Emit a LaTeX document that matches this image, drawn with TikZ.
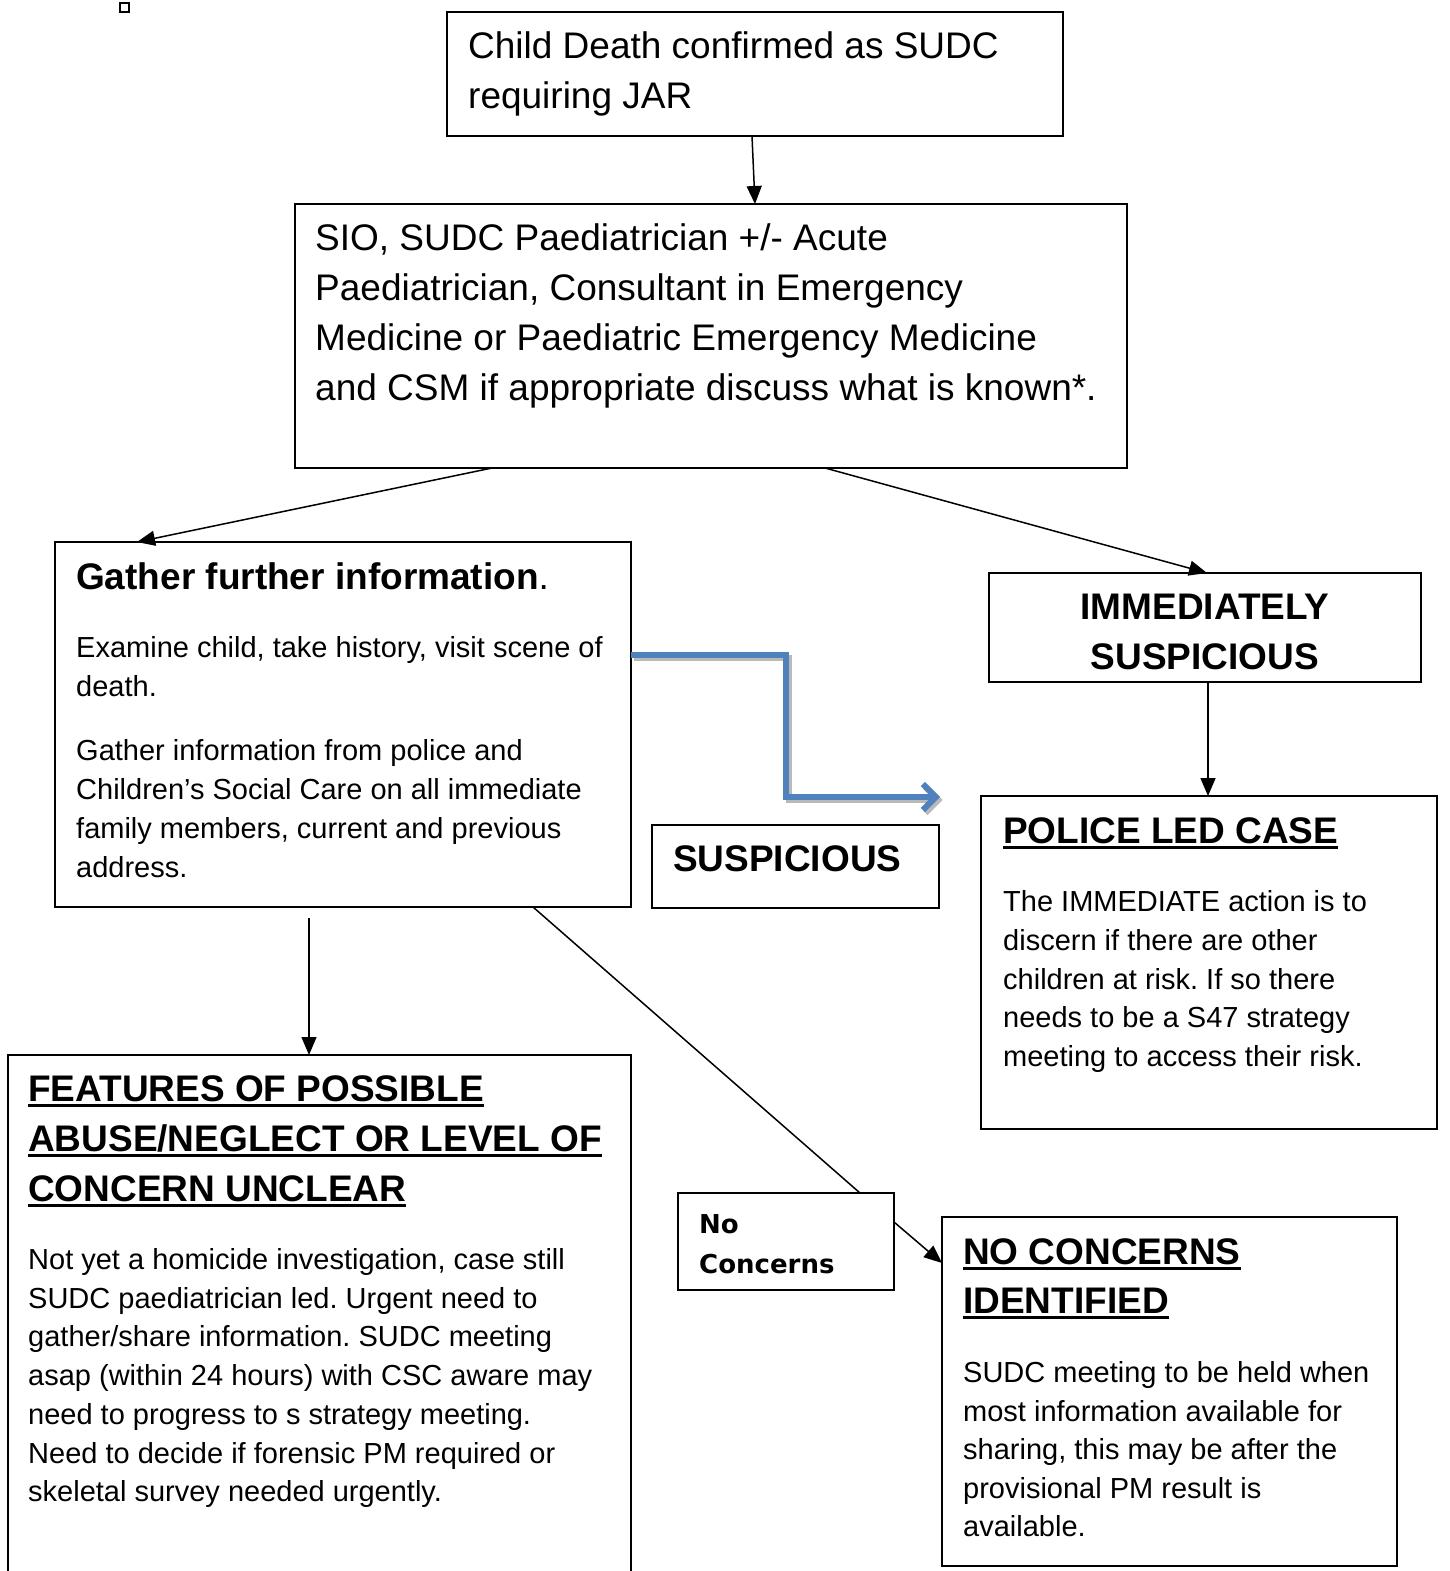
\documentclass[tikz,border=0pt]{standalone}
\usepackage{fontspec}
\setmainfont{Liberation Sans}
\newfontfamily\tahomafont{DejaVu Sans}
\usetikzlibrary{arrows.meta}
\definecolor{officeblue}{RGB}{79,129,189}
\frenchspacing
% thick underline for headings
\newcommand{\thickul}[1]{\setbox0\hbox{#1}\rlap{\rule[-6pt]{\wd0}{3pt}}\box0}

\begin{document}
\begin{tikzpicture}[
    x=1pt, y=-1pt,
    box/.style={draw=black, line width=1.8pt, anchor=north west, inner sep=0pt, outer sep=0pt},
    arr/.style={black, line width=1.5pt, -{Triangle[length=18pt, width=15pt]}},
    link/.style={black, line width=1.5pt},
    bluearr/.style={officeblue, line width=6pt, line join=miter,
        -{Straight Barb[length=13pt, width=26pt]}},
    blueshadow/.style={bluearr, gray!55, transform canvas={xshift=2.5pt, yshift=-3pt}},
    bigtxt/.style={anchor=base west, inner sep=0pt, align=left, font=\fontsize{37}{50}\selectfont},
    headtxt/.style={bigtxt, font=\fontsize{37}{50}\selectfont\bfseries},
    bodytxt/.style={anchor=base west, inner sep=0pt, align=left, font=\fontsize{29}{38.75}\selectfont},
    smalltxt/.style={anchor=base west, inner sep=0pt, align=left, font=\tahomafont\bfseries\fontsize{26}{40}\selectfont},
]

\clip (0,0) rectangle (1449,1571);

% ── Stray marker ────────────────────────────────────────────
\draw[black, line width=1.2pt] (120,3) rectangle (129,12);

% ── Boxes ───────────────────────────────────────────────────
\node[box, minimum width=616pt, minimum height=124pt] (jar) at (447,12) {};
\node[box, minimum width=832pt, minimum height=264pt] (sio) at (295,204) {};
\node[box, minimum width=576pt, minimum height=365pt] (gather) at (55,542) {};
\node[box, minimum width=432pt, minimum height=109pt] (imm) at (989,573) {};
\node[box, minimum width=456pt, minimum height=333pt] (police) at (981,796) {};
\node[box, minimum width=287pt, minimum height=83pt] (susp) at (652,825) {};
\node[box, minimum width=623pt, minimum height=560pt] (features) at (8,1055) {};
\node[box, minimum width=216pt, minimum height=97pt] (nocon) at (678,1193) {};
\node[box, minimum width=455pt, minimum height=349pt] (noci) at (942,1217) {};

% ── Texts (placed at the baseline of their last line) ───────
\node[bigtxt] (jartxt) at (468,108) {Child Death confirmed as SUDC\\requiring JAR};
\node[bigtxt] (siotxt) at (315,400) {SIO, SUDC Paediatrician +/- Acute\\
    Paediatrician, Consultant in Emergency\\
    Medicine or Paediatric Emergency Medicine\\
    and CSM if appropriate discuss what is known*.};

\node[headtxt] (gatherhead) at (76,589) {Gather further information\textmd{.}};
\node[bodytxt, font=\fontsize{29}{39}\selectfont] (gatherone) at (76,696.5)
    {Examine child, take history, visit scene of\\death.};
\node[bodytxt, font=\fontsize{29}{39}\selectfont] (gathertwo) at (76,877.5)
    {Gather information from police and\\
    Children’s Social Care on all immediate\\
    family members, current and previous\\
    address.};

\node[headtxt, anchor=base, align=center] (immtxt) at (1205,669) {IMMEDIATELY\\SUSPICIOUS};
\node[headtxt] (susptxt) at (673,871) {SUSPICIOUS};

\node[headtxt] (policehead) at (1003,843) {\thickul{POLICE LED CASE}};
\node[bodytxt] (policetxt) at (1003,1066.5) {The IMMEDIATE action is to\\
    discern if there are other\\
    children at risk. If so there\\
    needs to be a S47 strategy\\
    meeting to access their risk.};

\node[headtxt] (featurehead) at (28,1201) {\thickul{FEATURES OF POSSIBLE}\\
    \thickul{ABUSE/NEGLECT OR LEVEL OF}\\
    \thickul{CONCERN UNCLEAR}};
\node[bodytxt, font=\fontsize{29}{38.7}\selectfont] (featuretxt) at (28,1501.7)
    {Not yet a homicide investigation, case still\\
    SUDC paediatrician led. Urgent need to\\
    gather/share information. SUDC meeting\\
    asap (within 24 hours) with CSC aware may\\
    need to progress to s strategy meeting.\\
    Need to decide if forensic PM required or\\
    skeletal survey needed urgently.};

\node[smalltxt] (nocontxt) at (699,1273.5) {No\\Concerns};

\node[headtxt, font=\fontsize{37}{49}\selectfont\bfseries] (nocihead) at (963,1313)
    {\thickul{NO CONCERNS}\\\thickul{IDENTIFIED}};
\node[bodytxt, font=\fontsize{29}{38.5}\selectfont] (nocitxt) at (963,1536.5)
    {SUDC meeting to be held when\\
    most information available for\\
    sharing, this may be after the\\
    provisional PM result is\\
    available.};

% ── Connectors ──────────────────────────────────────────────
\draw[arr] ([xshift=-3pt]jar.south) -- ([xshift=44pt]sio.north);
\draw[arr] ([xshift=-219pt]sio.south) -- ([xshift=-206pt]gather.north);
\draw[arr] ([xshift=114pt]sio.south) -- ([xshift=2pt]imm.north);
\draw[arr] ([xshift=3pt]imm.south) -- ([xshift=-1pt]police.north);
\draw[arr] ([xshift=-34pt, yshift=-11pt]gather.south) -- ([xshift=-10.5pt]features.north);
\draw[link] ([xshift=190pt]gather.south) -- ([xshift=74pt]nocon.north);
\draw[arr] ([yshift=19.5pt]nocon.east) -- ([yshift=128.5pt]noci.west);

% Suspicious route (blue, shadowed)
\coordinate (bluebend) at (786,797);
\coordinate (bluetip) at (940,797);
\draw[blueshadow] ([yshift=69.5pt]gather.east) -| (bluebend) -- (bluetip);
\draw[bluearr] ([yshift=69.5pt]gather.east) -| (bluebend) -- (bluetip);

\end{tikzpicture}
\end{document}
